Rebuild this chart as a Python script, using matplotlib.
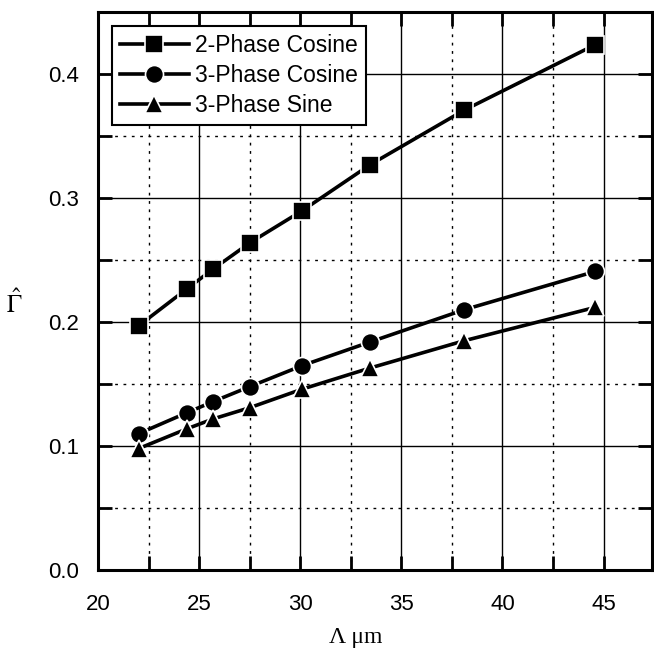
import matplotlib
matplotlib.use("Agg")
import matplotlib.pyplot as plt
from matplotlib.ticker import MultipleLocator

plt.rcParams["font.family"] = ["Liberation Sans", "DejaVu Sans"]
plt.rcParams["mathtext.fontset"] = "stix"

# ---------------- data ----------------
wavelength = [22.0, 24.4, 25.7, 27.5, 30.1, 33.45, 38.1, 44.6]
two_phase_cos = [0.197, 0.227, 0.243, 0.264, 0.290, 0.327, 0.371, 0.424]
three_phase_cos = [0.110, 0.127, 0.136, 0.148, 0.165, 0.184, 0.210, 0.241]
three_phase_sin = [0.098, 0.114, 0.122, 0.131, 0.146, 0.163, 0.185, 0.212]
labels = ["2-Phase Cosine", "3-Phase Cosine", "3-Phase Sine"]

fig = plt.figure(figsize=(6.54, 6.5), dpi=100)
ax = fig.add_axes([0.150, 0.123, 0.847, 0.858])

style = dict(color="black", lw=2.6, ms=13, mec="white", mew=1.2, mfc="black")
ax.plot(wavelength, two_phase_cos, marker="s", label=labels[0], **style)
ax.plot(wavelength, three_phase_cos, marker="o", label=labels[1], **style)
ax.plot(wavelength, three_phase_sin, marker="^", label=labels[2], **style)

ax.set_xlim(20, 47.4)
ax.set_ylim(0, 0.45)
ax.xaxis.set_major_locator(MultipleLocator(5))
ax.xaxis.set_minor_locator(MultipleLocator(2.5))
ax.yaxis.set_major_locator(MultipleLocator(0.1))
ax.yaxis.set_minor_locator(MultipleLocator(0.05))
ax.yaxis.set_major_formatter(plt.FormatStrFormatter("%.1f"))

ax.grid(which="major", color="black", lw=1.0, ls="-")
ax.grid(which="minor", color="black", lw=1.0, ls=(0, (2, 4)))
ax.set_axisbelow(True)

ax.tick_params(which="both", direction="in", top=True, right=True,
               length=10, width=2, labelsize=16)
ax.tick_params(axis="x", which="major", pad=17)
ax.tick_params(axis="y", which="major", pad=14)
for s in ax.spines.values():
    s.set_linewidth(2.2)

ax.set_xlabel("\u039b \u03bcm", fontsize=17, family="Liberation Serif")
ax.xaxis.set_label_coords(0.465, -0.102)
ax.set_ylabel(r"$\hat{\Gamma}$", fontsize=18, rotation=0, va="center", ha="center")
ax.yaxis.set_label_coords(-0.152, 0.478)

leg = ax.legend(loc="upper left", fontsize=16.5, frameon=True, fancybox=False,
                edgecolor="black", framealpha=1, handlelength=3.0,
                borderaxespad=0.6, borderpad=0.35, labelspacing=0.3,
                handletextpad=0.3)
leg.get_frame().set_linewidth(1.5)

fig.savefig("out.png", dpi=100)
